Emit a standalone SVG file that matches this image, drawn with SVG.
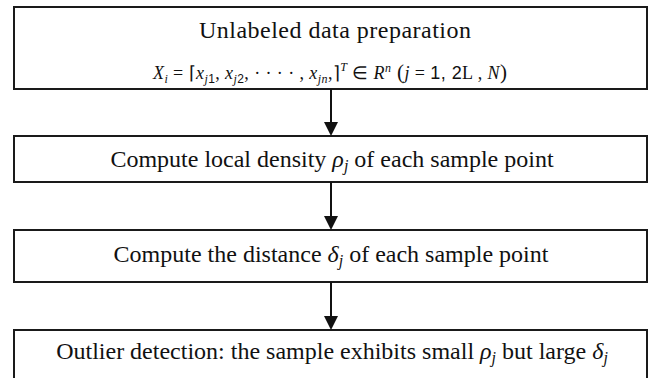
<svg xmlns="http://www.w3.org/2000/svg" width="648" height="378" viewBox="0 0 648 378">
<style>
.box{fill:#fff;stroke:#1a1a1a;stroke-width:2}
.t{font-family:"Liberation Serif","Times New Roman",serif;font-size:24px;fill:#111}
.f{font-family:"Liberation Serif","Times New Roman",serif;font-size:18px;fill:#111}
.i{font-style:italic}
.s{font-family:"Liberation Sans",Arial,sans-serif}
.c{stroke:#111;stroke-width:2;fill:none}
.h{fill:#111}
</style>
<rect width="648" height="378" fill="#fff"/>
<g id="node1">
<rect class="box" x="14" y="7" width="633" height="82"/>
<text class="t" x="335" y="38" text-anchor="middle" textLength="272">Unlabeled data preparation</text>
<text class="f" x="153" y="79" textLength="354"><tspan class="i">X</tspan><tspan class="i" font-size="12" dy="4">i</tspan><tspan dy="-4"> = ⌈</tspan><tspan class="i">x</tspan><tspan class="i" font-size="12" dy="4">j</tspan><tspan class="s" font-size="12">1</tspan><tspan dy="-4">, </tspan><tspan class="i">x</tspan><tspan class="i" font-size="12" dy="4">j</tspan><tspan class="s" font-size="12">2</tspan><tspan dy="-4">, · · · · , </tspan><tspan class="i">x</tspan><tspan class="i" font-size="12" dy="4">jn</tspan><tspan dy="-4">,⌉</tspan><tspan class="i" font-size="12" dy="-8">T</tspan><tspan dy="8"> ∈ </tspan><tspan class="i">R</tspan><tspan class="i" font-size="12" dy="-7">n</tspan><tspan dy="7" font-size="21"> (</tspan><tspan class="i">j</tspan><tspan> = </tspan><tspan class="s">1, 2</tspan><tspan>L  , </tspan><tspan class="i">N</tspan><tspan font-size="21">)</tspan></text>
</g>
<g id="node2">
<rect class="box" x="14" y="136" width="633" height="46"/>
<text class="t" x="332" y="167" text-anchor="middle">Compute local density <tspan class="i">ρ</tspan><tspan class="i" font-size="16" dy="4">j</tspan><tspan dy="-4"> of each sample point</tspan></text>
</g>
<g id="node3">
<rect class="box" x="14" y="230" width="633" height="52"/>
<text class="t" x="331" y="262" text-anchor="middle">Compute the distance <tspan class="i">δ</tspan><tspan class="i" font-size="16" dy="4">j</tspan><tspan dy="-4"> of each sample point</tspan></text>
</g>
<g id="node4">
<rect class="box" x="14" y="330" width="633" height="60"/>
<text class="t" x="332" y="359" text-anchor="middle">Outlier detection: the sample exhibits small <tspan class="i">ρ</tspan><tspan class="i" font-size="16" dy="4">j</tspan><tspan dy="-4"> but large </tspan><tspan class="i">δ</tspan><tspan class="i" font-size="16" dy="4">j</tspan></text>
</g>
<g id="connectors">
<line class="c" x1="331" y1="89" x2="331" y2="124"/>
<polygon class="h" points="324,122 338,122 331,136"/>
<line class="c" x1="331" y1="182" x2="331" y2="218"/>
<polygon class="h" points="324,216 338,216 331,230"/>
<line class="c" x1="331" y1="282" x2="331" y2="318"/>
<polygon class="h" points="324,316 338,316 331,330"/>
</g>
</svg>
